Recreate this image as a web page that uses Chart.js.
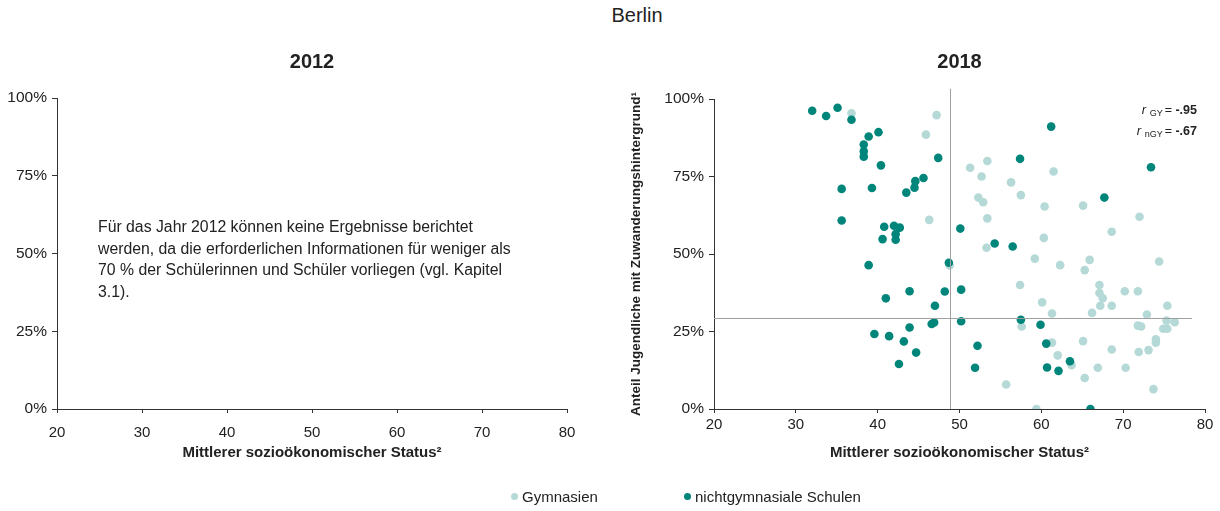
<!DOCTYPE html>
<html>
<head>
<meta charset="utf-8">
<title>Berlin</title>
<script src="https://cdn.jsdelivr.net/npm/chart.js@4.4.1/dist/chart.umd.min.js"></script>
<style>
  body { margin: 0; background: #fff; font-family: "Liberation Sans", Arial, sans-serif; color: #222; }
  #page { position: relative; width: 1220px; height: 511px; overflow: hidden; }
  .box { position: absolute; top: 0; width: 610px; height: 511px; }
  #mainTitle { position: absolute; top: 4px; left: 537px; width: 200px; text-align: center; font-size: 20px; }
  #note { position: absolute; left: 98px; top: 216px; font-size: 15.8px; line-height: 21.5px; white-space: nowrap; }
  #corr { position: absolute; right: 23px; top: 101px; font-size: 12.5px; line-height: 18px; text-align: right; }
  #corr i { font-size: 13px; }
  #corr sub { font-size: 9px; vertical-align: -2px; margin-right: 2px; }
  #corr b { font-weight: bold; }
  #legend { position: absolute; top: 488px; left: 0; width: 1220px; font-size: 15px; }
  #legend span.item { position: absolute; top: 0; white-space: nowrap; }
  #legend span.dot { display: inline-block; width: 7px; height: 7px; border-radius: 50%; margin-right: 4px; vertical-align: 2px; }
</style>
</head>
<body>
<div id="page">
  <div id="mainTitle">Berlin</div>
  <div class="box" style="left:0"><canvas id="chart2012"></canvas></div>
  <div class="box" style="left:610px"><canvas id="chart2018"></canvas></div>
  <div id="note">Für das Jahr 2012 können keine Ergebnisse berichtet<br>werden, da die erforderlichen Informationen für weniger als<br>70 % der Schülerinnen und Schüler vorliegen (vgl. Kapitel<br>3.1).</div>
  <div id="corr"><i>r</i> <sub>GY</sub>= <b>-.95</b><br><i>r</i> <sub>nGY</sub>= <b>-.67</b></div>
  <div id="legend">
    <span class="item" style="left:511px"><span class="dot" style="background:rgb(180,217,214)"></span>Gymnasien</span>
    <span class="item" style="left:684px"><span class="dot" style="background:rgb(0,133,122)"></span>nichtgymnasiale Schulen</span>
  </div>
</div>
<script>
// Werte 2018
const gymX = [36.8, 47.2, 45.9, 46.3, 48.8, 51.3, 53.4, 52.7, 56.3, 61.5, 52.3, 52.9, 57.5, 53.4, 60.4, 65.1, 72.0, 68.6, 60.3, 53.3,
  59.2, 62.3, 65.9, 65.3, 74.4, 57.4, 67.1, 67.1, 67.5, 67.2, 68.6, 70.2, 71.8, 60.1, 61.3, 66.2, 72.9, 75.4, 75.3, 76.3,
  71.8, 72.2, 74.9, 75.4, 57.6, 61.3, 74.0, 74.0, 65.1, 68.6, 73.1, 71.9, 62.0, 63.7, 66.9, 70.3, 65.3, 55.7, 73.7, 59.4];
const gymY = [95.4, 94.8, 88.5, 61.0, 46.3, 77.8, 80.0, 75.0, 73.1, 76.6, 68.2, 66.7, 69.0, 61.5, 65.3, 65.6, 62.0, 57.2, 55.2, 52.0,
  48.5, 46.4, 48.1, 44.8, 47.6, 40.0, 40.0, 37.4, 35.7, 33.3, 33.3, 38.0, 38.0, 34.4, 30.8, 31.0, 30.5, 33.3, 28.5, 28.0,
  26.9, 26.6, 25.9, 25.9, 26.6, 21.4, 22.5, 21.4, 21.9, 19.2, 19.0, 18.4, 17.3, 14.1, 13.3, 13.3, 10.0, 7.9, 6.4, 0.0];

const ngX = [32.0, 35.1, 33.7, 36.8, 40.1, 38.9, 38.3, 38.3, 38.3, 40.4, 47.4, 45.6, 44.6, 44.5, 43.5, 35.6, 39.3, 35.6, 40.8, 42.0,
  42.7, 42.2, 40.6, 42.2, 38.9, 48.7, 41.0, 43.9, 48.2, 50.2, 47.0, 46.6, 46.9, 43.9, 39.6, 41.4, 43.2, 44.7, 42.6, 50.2,
  50.1, 54.3, 56.5, 57.4, 61.2, 67.7, 73.4, 57.5, 59.9, 52.2, 51.9, 60.6, 60.7, 62.1, 63.5, 66.0];
const ngY = [96.2, 97.2, 94.5, 93.3, 89.3, 87.9, 85.3, 83.1, 81.4, 78.6, 81.0, 74.5, 73.5, 71.4, 69.8, 71.0, 71.3, 60.8, 58.8, 59.1,
  58.5, 56.4, 54.8, 54.6, 46.4, 47.2, 35.7, 38.0, 37.9, 38.5, 33.3, 27.4, 27.9, 26.3, 24.2, 23.5, 21.8, 18.2, 14.5, 28.3,
  58.2, 53.4, 52.4, 80.7, 91.1, 68.2, 78.0, 28.8, 27.2, 20.4, 13.3, 21.1, 13.4, 12.3, 15.4, 0.0];

// Mittelwerte (Bezugslinien)
const meanX = 48.9;
const meanY = 29.5;

const xTicks = [20, 30, 40, 50, 60, 70, 80];
const yTicks = [0, 25, 50, 75, 100];

const colGym = 'rgb(180,217,214)';
const colNg = 'rgb(0,133,122)';
const axisCol = '#333';

Chart.defaults.font.family = '"Liberation Sans", Arial, sans-serif';
Chart.defaults.color = '#222';

function toPoints(xs, ys) {
  return xs.map((x, i) => ({ x: x, y: ys[i] }));
}

// Bezugslinien im Diagramm 2018
const meanLines = {
  id: 'meanLines',
  afterDatasetsDraw(chart) {
    const { ctx, scales: { x, y } } = chart;
    ctx.save();
    ctx.strokeStyle = '#a0a0a0';
    ctx.lineWidth = 1;
    ctx.beginPath();
    const px = Math.round(x.getPixelForValue(meanX)) + 0.5;
    ctx.moveTo(px, y.getPixelForValue(103.3));
    ctx.lineTo(px, y.getPixelForValue(0));
    const py = Math.round(y.getPixelForValue(meanY)) + 0.5;
    ctx.moveTo(x.getPixelForValue(20), py);
    ctx.lineTo(x.getPixelForValue(78.4), py);
    ctx.stroke();
    ctx.restore();
  }
};

function makeOptions(year, yAxisWidth, padRight, xTickPad, titlePadBottom, showYTitle) {
  return {
    responsive: false,
    animation: false,
    layout: { padding: { left: 0, right: padRight, top: 0, bottom: 49 } },
    plugins: {
      legend: { display: false },
      tooltip: { enabled: false },
      title: {
        display: true,
        text: year,
        fullSize: false,
        color: '#222',
        font: { size: 20, weight: 'bold' },
        padding: { top: 50, bottom: titlePadBottom }
      }
    },
    scales: {
      x: {
        type: 'linear',
        min: 20,
        max: 80,
        afterFit(s) { s.height = 53; },
        afterBuildTicks(s) { s.ticks = xTicks.map(v => ({ value: v })); },
        border: { display: true, color: axisCol, width: 1 },
        grid: { drawOnChartArea: false, drawTicks: true, tickLength: 4, color: axisCol },
        ticks: { color: '#222', font: { size: 15 }, padding: xTickPad },
        title: {
          display: true,
          text: 'Mittlerer sozioökonomischer Status²',
          color: '#222',
          font: { size: 15, weight: 'bold' },
          padding: 0
        }
      },
      y: {
        type: 'linear',
        min: 0,
        max: 100,
        afterFit(s) { s.width = yAxisWidth; },
        afterBuildTicks(s) { s.ticks = yTicks.map(v => ({ value: v })); },
        border: { display: true, color: axisCol, width: 1 },
        grid: { drawOnChartArea: false, drawTicks: true, tickLength: 5, color: axisCol },
        ticks: { color: '#222', font: { size: 15.5 }, padding: 5, callback: v => v + '%' },
        title: {
          display: showYTitle,
          text: 'Anteil Jugendliche mit Zuwanderungshintergrund¹',
          color: '#222',
          font: { size: 13.5, weight: 'bold' },
          padding: { top: 18, bottom: 0 }
        }
      }
    }
  };
}

const canvas2012 = document.getElementById('chart2012');
canvas2012.width = 610; canvas2012.height = 511;
new Chart(canvas2012, {
  type: 'scatter',
  data: { datasets: [] },
  options: makeOptions('2012', 57, 43, 11, 24, false)
});

const canvas2018 = document.getElementById('chart2018');
canvas2018.width = 610; canvas2018.height = 511;
new Chart(canvas2018, {
  type: 'scatter',
  data: {
    datasets: [
      {
        label: 'nichtgymnasiale Schulen',
        data: toPoints(ngX, ngY),
        backgroundColor: colNg,
        borderWidth: 0,
        pointRadius: 4.3,
        order: 0
      },
      {
        label: 'Gymnasien',
        data: toPoints(gymX, gymY),
        backgroundColor: colGym,
        borderWidth: 0,
        pointRadius: 4.3,
        order: 1
      }
    ]
  },
  options: makeOptions('2018', 104, 15, 3, 25, true),
  plugins: [meanLines]
});
</script>
</body>
</html>
